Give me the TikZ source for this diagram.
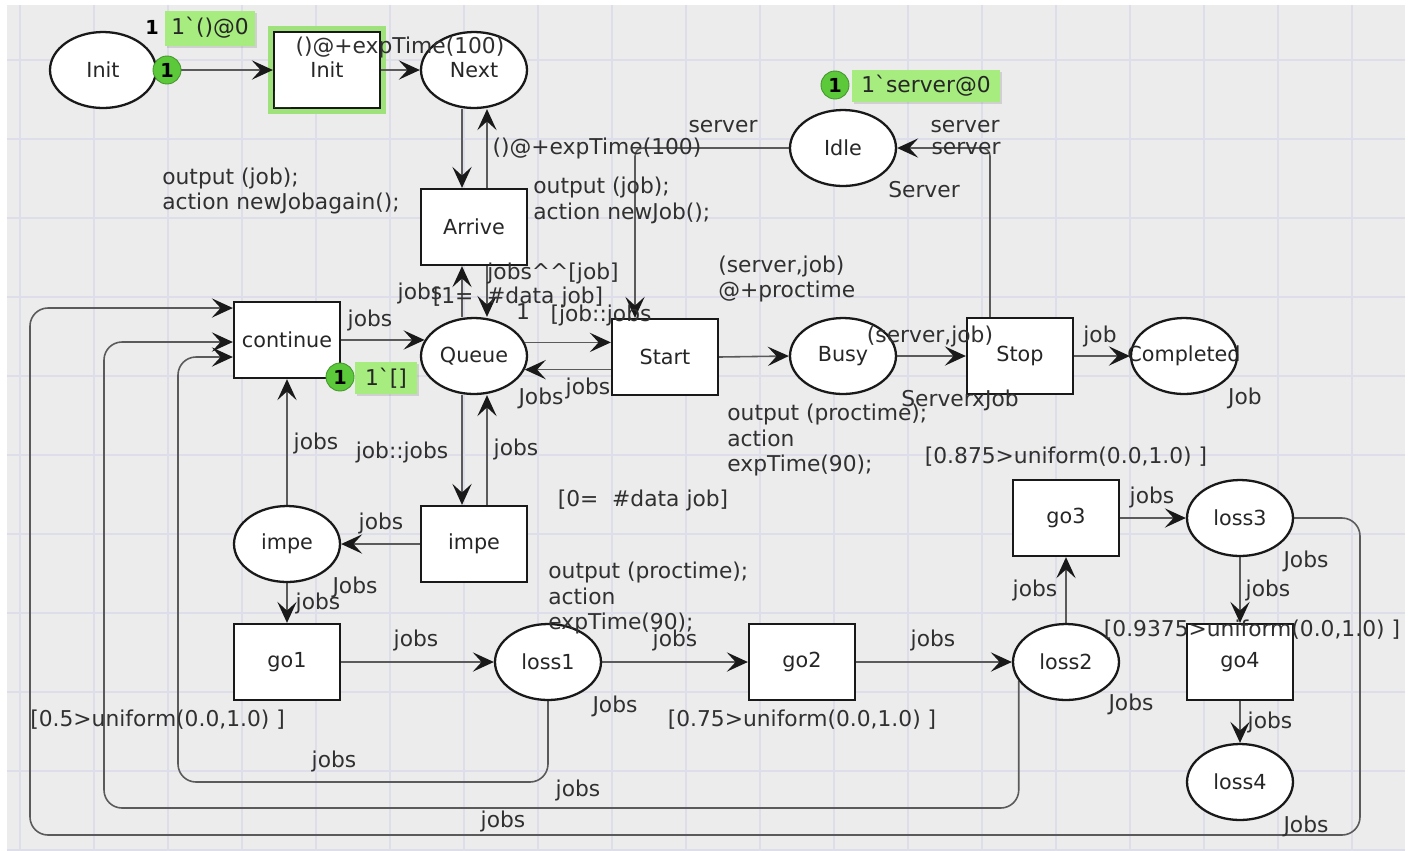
\documentclass[tikz,border=0pt]{standalone}
\usepackage{fontspec}
\setmainfont{DejaVu Sans}
\usetikzlibrary{shapes.geometric,arrows.meta,calc,shadows}
\definecolor{canvas}{HTML}{ECECEC}
\definecolor{gridc}{HTML}{DEDEEA}
\definecolor{arcc}{HTML}{5A5A5A}
\definecolor{inscr}{HTML}{303030}
\definecolor{tokfill}{HTML}{5CC93A}
\definecolor{markfill}{HTML}{A6EC7E}
\definecolor{glow}{HTML}{9FE27C}
\newcommand\pnfont{\fontsize{11.8}{13}\selectfont}
\newcommand\lbfont{\fontsize{12.4}{14.7}\selectfont}
\pgfdeclarelayer{bg}
\pgfsetlayers{bg,main}
\tikzset{
  place/.style={ellipse, draw=black!90, line width=1.3pt, fill=white,
    minimum width=2.12cm, minimum height=1.52cm, inner sep=0pt,
    font=\pnfont, text=black!85},
  trans/.style={rectangle, draw=black!90, line width=1.3pt, fill=white,
    minimum width=2.12cm, minimum height=1.52cm, inner sep=0pt,
    font=\pnfont, text=black!85},
  lbl/.style={text=inscr, font=\lbfont, inner sep=0pt},
  arc/.style={draw=arcc, line width=0.9pt,
    -{Stealth[length=12pt,width=11pt,inset=5pt,color=black!90]}},
  fb/.style={arc, rounded corners=0.36cm},
  token/.style={circle, fill=tokfill, draw=tokfill!75!black, line width=0.5pt,
    minimum size=0.56cm, inner sep=0pt, font=\bfseries\fontsize{11}{12}\selectfont},
  marking/.style={rectangle, fill=markfill, inner sep=0pt, minimum height=0.64cm,
    font=\lbfont, text=black!85,
    drop shadow={shadow xshift=1.2pt, shadow yshift=-1.2pt, opacity=0.25}}
}
\begin{document}
\begin{tikzpicture}[x=0.02cm, y=-0.02cm]
\useasboundingbox (0,0) rectangle (1411,850);

% ---------- places ----------
\node[place] (pInit)  at (103,70)  {Init};
\node[place] (pNext)  at (474,70)  {Next};
\node[place] (pIdle)  at (843,148) {Idle};
\node[place] (pQueue) at (474,356) {Queue};
\node[place] (pBusy)  at (843,356) {Busy};
\node[place] (pDone)  at (1184,356) {\makebox[0pt]{Completed}};
\node[place] (pImpe)  at (287,544) {impe};
\node[place] (pLossA) at (548,662) {loss1};
\node[place] (pLossB) at (1066,662) {loss2};
\node[place] (pLossC) at (1240,518) {loss3};
\node[place] (pLossD) at (1240,782) {loss4};

% ---------- transitions ----------
\node[trans] (tInit)   at (327,70)  {Init};
\node[trans] (tArrive) at (474,227) {Arrive};
\node[trans] (tCont)   at (287,340) {continue};
\node[trans] (tStart)  at (665,357) {Start};
\node[trans] (tStop)   at (1020,356) {Stop};
\node[trans] (tImpe)   at (474,544) {impe};
\node[trans] (tGoA)    at (287,662) {go1};
\node[trans] (tGoB)    at (802,662) {go2};
\node[trans] (tGoC)    at (1066,518) {go3};
\node[trans] (tGoD)    at (1240,662) {go4};

% enabled-transition corner mark
\fill[tokfill] ([shift={(0.7pt,0.7pt)}]tInit.south west) -- ++(0cm,0.34cm)
  -- ++(0cm,-0.34cm) -- ++(0.34cm,0cm) -- cycle;

\begin{pgfonlayer}{bg}
  % canvas and grid
  \fill[white] (0,0) rectangle (1411,850);
  \fill[canvas] (7,5) rectangle (1405,850);
  \foreach \gx in {20,94,...,1352} \draw[gridc, line width=1.4pt] (\gx,5) -- (\gx,850);
  \foreach \gy in {60,139,...,850} \draw[gridc, line width=1.4pt] (7,\gy) -- (1405,\gy);
  % highlight around the enabled transition
  \fill[glow] ([shift={(-0.1cm,0.1cm)}]tInit.north west) rectangle ([shift={(0.1cm,-0.1cm)}]tInit.south east);

  % ---------- arcs ----------
  \draw[arc] (pInit.east) -- (tInit.west);
  \draw[arc] (tInit.east) -- (pNext.west);
  \draw[arc] ([xshift=-0.24cm]pNext.south) -- ([xshift=-0.24cm]tArrive.north);
  \draw[arc] ([xshift=0.26cm]tArrive.north) -- ([xshift=0.26cm]pNext.south);
  \draw[arc] ([xshift=-0.24cm]pQueue.north) -- ([xshift=-0.24cm]tArrive.south);
  \draw[arc] ([xshift=0.26cm]tArrive.south) -- ([xshift=0.26cm]pQueue.north);
  \draw[arc] (tCont.east) -- (pQueue.162);
  \draw[arc] (pQueue.15) -- (pQueue.15 -| tStart.west);
  \draw[arc] (pQueue.-15 -| tStart.west) -- (pQueue.-15);
  \draw[arc] (tStart.east) -- (pBusy.west);
  \draw[arc] (pBusy.east) -- (tStop.west);
  \draw[arc] (tStop.east) -- (pDone.west);
  \draw[arc, rounded corners=0.16cm] (pIdle.west) -| ([xshift=-0.6cm]tStart.north);
  \draw[arc, rounded corners=0.16cm] ([xshift=-0.6cm]tStop.north) |- (pIdle.east);
  \draw[arc] ([xshift=-0.24cm]pQueue.south) -- ([xshift=-0.24cm]tImpe.north);
  \draw[arc] ([xshift=0.26cm]tImpe.north) -- ([xshift=0.26cm]pQueue.south);
  \draw[arc] (tImpe.west) -- (pImpe.east);
  \draw[arc] (pImpe.north) -- (tCont.south);
  \draw[arc] (pImpe.south) -- (tGoA.north);
  \draw[arc] (tGoA.east) -- (pLossA.west);
  \draw[arc] (pLossA.east) -- (tGoB.west);
  \draw[arc] (tGoB.east) -- (pLossB.west);
  \draw[arc] (pLossB.north) -- (tGoC.south);
  \draw[arc] (tGoC.east) -- (pLossC.west);
  \draw[arc] (pLossC.south) -- (tGoD.north);
  \draw[arc] (tGoD.south) -- (pLossD.north);
  % feedback arcs back to continue
  \draw[fb] (pLossA.south) |- (178,782) |- ([yshift=-0.34cm]tCont.west);
  \draw[fb] (pLossB.202) |- (104,808) |- ([yshift=-0.04cm]tCont.west);
  \draw[fb] (pLossC.east) -| (1360,835) -| (30,308) -- ([yshift=0.64cm]tCont.west);
\end{pgfonlayer}

% ---------- markings ----------
\node[token] (kInit) at (167,70) {1};
\node[font=\bfseries\fontsize{11}{12}\selectfont, inner sep=0pt] (cInit) at (152,27) {1};
\node[marking, minimum width=1.8cm, minimum height=0.7cm] (mInit) at (210,28) {1\textasciigrave()@0};
\node[token] (kIdle) at (835,85) {1};
\node[marking, minimum width=2.96cm] (mIdle) at (926,86) {1\textasciigrave server@0};
\node[token] (kQueue) at (340,377) {1};
\node[marking, minimum width=1.24cm] (mQueue) at (386,378) {1\textasciigrave[]};

% ---------- inscriptions ----------
\node[lbl] at (400,47) {()@+expTime(100)};
\node[lbl, align=left, anchor=west] at (162,191) {output (job);\\action newJobagain();};
\node[lbl] at (597,148) {()@+expTime(100)};
\node[lbl] at (723,127) {server};
\node[lbl, align=left, anchor=west] at (533,200) {output (job);\\action newJob();};
\node[lbl] at (965,127) {server};
\node[lbl] at (966,149) {server};
\node[lbl] at (924,190) {Server};
\node[lbl, align=left, anchor=west] at (718,279) {(server,job)\\@+proctime};
\node[lbl] at (553,273) {jobs\textasciicircum\textasciicircum[job]};
\node[lbl] at (420,293) {jobs};
\node[lbl] at (518,297) {[1=\ \ \#data job]};
\node[lbl] at (523,312) {1};
\node[lbl] at (601,315) {[job::jobs};
\node[lbl] at (370,320) {jobs};
\node[lbl] at (930,336) {(server,job)};
\node[lbl] at (1100,336) {job};
\node[lbl] at (541,398) {Jobs};
\node[lbl] at (588,388) {jobs};
\node[lbl] at (960,400) {ServerxJob};
\node[lbl] at (1245,398) {Job};
\node[lbl, align=left, anchor=west] at (727,440) {output (proctime);\\action\\expTime(90);};
\node[lbl] at (1066,457) {[0.875>uniform(0.0,1.0) ]};
\node[lbl] at (316,443) {jobs};
\node[lbl] at (402,452) {job::jobs};
\node[lbl] at (516,449) {jobs};
\node[lbl] at (643,500) {[0=\ \ \#data job]};
\node[lbl] at (381,523) {jobs};
\node[lbl, align=left, anchor=west] at (548,598) {output (proctime);\\action\\expTime(90);};
\node[lbl] at (355,587) {Jobs};
\node[lbl] at (318,603) {jobs};
\node[lbl] at (1152,497) {jobs};
\node[lbl] at (1306,561) {Jobs};
\node[lbl] at (1035,590) {jobs};
\node[lbl] at (1268,590) {jobs};
\node[lbl] at (1252,630) {[0.9375>uniform(0.0,1.0) ]};
\node[lbl] at (416,640) {jobs};
\node[lbl] at (675,640) {jobs};
\node[lbl] at (933,640) {jobs};
\node[lbl, anchor=west] at (30,720) {[0.5>uniform(0.0,1.0) ]};
\node[lbl] at (615,706) {Jobs};
\node[lbl] at (802,720) {[0.75>uniform(0.0,1.0) ]};
\node[lbl] at (1131,704) {Jobs};
\node[lbl] at (1270,722) {jobs};
\node[lbl] at (334,761) {jobs};
\node[lbl] at (578,790) {jobs};
\node[lbl] at (503,821) {jobs};
\node[lbl] at (1306,826) {Jobs};
\end{tikzpicture}
\end{document}
